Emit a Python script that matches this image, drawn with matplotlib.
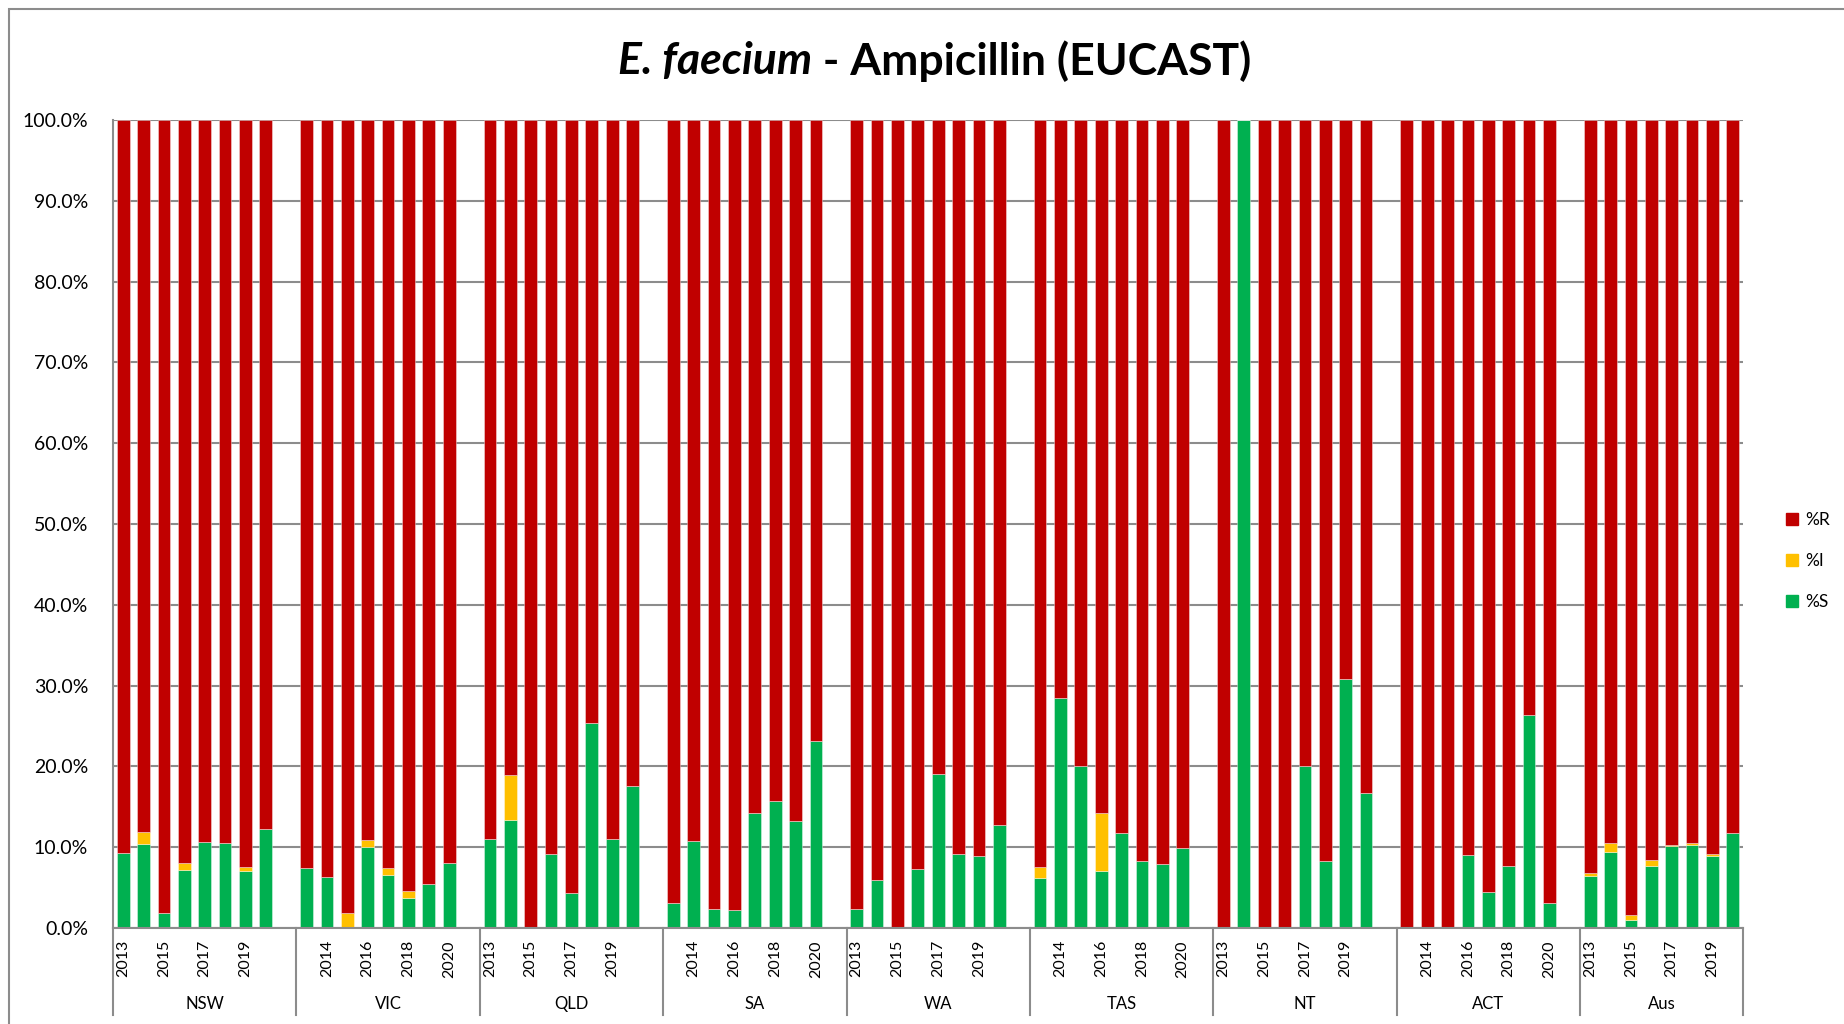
import numpy as np
import matplotlib
matplotlib.use("Agg")
from matplotlib import pyplot as plt
from matplotlib.patches import Patch, Rectangle
from matplotlib.ticker import FuncFormatter

plt.rcParams['font.family'] = ['Lato', 'DejaVu Sans']

# categories
regions = ["NSW", "VIC", "QLD", "SA", "WA", "TAS", "NT", "ACT", "Aus"]
years = [2013, 2014, 2015, 2016, 2017, 2018, 2019, 2020]

# % susceptible, one row per region, 2013..2020
pct_S = [
    [9.3, 10.4, 1.9, 7.2, 10.7, 10.5, 7.1, 12.2],    # NSW
    [7.4, 6.3, 0.0, 10.0, 6.6, 3.7, 5.5, 8.1],       # VIC
    [11.0, 13.4, 0.0, 9.2, 4.3, 25.4, 11.0, 17.6],   # QLD
    [3.1, 10.8, 2.4, 2.2, 14.2, 15.7, 13.2, 23.1],   # SA
    [2.3, 5.9, 0.0, 7.3, 19.0, 9.2, 8.9, 12.7],      # WA
    [6.2, 28.5, 20.0, 7.0, 11.7, 8.3, 7.9, 9.9],     # TAS
    [0.0, 100.0, 0.0, 0.0, 20.0, 8.3, 30.8, 16.7],   # NT
    [0.0, 0.0, 0.0, 9.0, 4.5, 7.7, 26.3, 3.1],       # ACT
    [6.4, 9.4, 1.0, 7.7, 10.1, 10.3, 8.9, 11.8],     # Aus
]
# % intermediate
pct_I = [
    [0.0, 1.5, 0.0, 0.9, 0.0, 0.0, 0.5, 0.0],
    [0.0, 0.0, 1.8, 0.9, 0.8, 0.9, 0.0, 0.0],
    [0.0, 5.5, 0.0, 0.0, 0.0, 0.0, 0.0, 0.0],
    [0.0, 0.0, 0.0, 0.0, 0.0, 0.0, 0.0, 0.0],
    [0.0, 0.0, 0.0, 0.0, 0.0, 0.0, 0.0, 0.0],
    [1.3, 0.0, 0.0, 7.2, 0.0, 0.0, 0.0, 0.0],
    [0.0, 0.0, 0.0, 0.0, 0.0, 0.0, 0.0, 0.0],
    [0.0, 0.0, 0.0, 0.0, 0.0, 0.0, 0.0, 0.0],
    [0.4, 1.1, 0.6, 0.7, 0.2, 0.2, 0.2, 0.0],
]

c_R = "#C00000"
c_I = "#FFC000"
c_S = "#00B050"
grey = "#8c8c8c"

S = np.array(pct_S)
I = np.array(pct_I)
R = 100.0 - S - I

# each region takes 8 year slots plus one empty slot (except the last)
slots_per_group = len(years) + 1
n_slots = slots_per_group * (len(regions) - 1) + len(years)
xpos = np.array([[g * slots_per_group + j for j in range(len(years))]
                 for g in range(len(regions))])

W, H = 1844, 1024
fig = plt.figure(figsize=(W / 100, H / 100), dpi=100)
ax = fig.add_axes([113 / W, 1 - 928 / H, (1743 - 113) / W, (928 - 120) / H])

bw = 0.62
edge = dict(edgecolor=(1, 1, 1, 0.45), linewidth=0.6)
x = xpos.ravel()
ax.bar(x, S.ravel(), bw, color=c_S, **edge)
ax.bar(x, I.ravel(), bw, bottom=S.ravel(), color=c_I, **edge)
ax.bar(x, R.ravel(), bw, bottom=(S + I).ravel(), color=c_R, **edge)

ax.set_xlim(-0.5, n_slots - 0.5)
ax.set_ylim(0, 100)
ax.set_yticks(np.arange(0, 101, 10))
ax.yaxis.set_major_formatter(FuncFormatter(lambda v, p: f"{v:.1f}%"))
ax.tick_params(axis='y', length=0, labelsize=14, pad=18)
ax.set_xticks([])
ax.grid(axis='y', color=grey, linewidth=1.5)
ax.set_axisbelow(True)
for side in ["top", "right"]:
    ax.spines[side].set_visible(False)
ax.spines["left"].set_color(grey)
ax.spines["bottom"].set_color(grey)
ax.spines["left"].set_linewidth(1.5)
ax.spines["bottom"].set_linewidth(1.5)

# year labels on every other slot
xform = ax.get_xaxis_transform()
for g in range(len(regions)):
    for j, yr in enumerate(years):
        s = xpos[g, j]
        if s % 2 == 0:
            ax.annotate(str(yr), xy=(s, 0), xycoords=xform,
                        xytext=(0, -12), textcoords="offset pixels",
                        rotation=90, ha="center", va="top", fontsize=11.5)

# region labels and separators
sep_bottom = (928 - 1015) / (928 - 120)
bounds = [g * slots_per_group - 0.5 for g in range(len(regions))] + [n_slots - 0.5]
for b in bounds:
    ax.plot([b, b], [0, sep_bottom], transform=xform, color=grey,
            linewidth=1.5, clip_on=False)
for g, name in enumerate(regions):
    mid = (bounds[g] + bounds[g + 1]) / 2
    ax.annotate(name, xy=(mid, 0), xycoords=xform, xytext=(0, -76),
                textcoords="offset pixels", ha="center", va="center",
                fontsize=12)

# title: species name in italics
ty = 1 - 61 / H
fig.text(812 / W, ty, "E. faecium", fontsize=32, fontweight="bold",
         fontstyle="italic", ha="right", va="center")
fig.text(812 / W, ty, " - Ampicillin (EUCAST)", fontsize=32,
         fontweight="bold", ha="left", va="center")

handles = [Patch(color=c_R, label="%R"), Patch(color=c_I, label="%I"),
           Patch(color=c_S, label="%S")]
fig.legend(handles=handles, loc="center left", bbox_to_anchor=(1770 / W, 1 - 561 / H),
           frameon=False, fontsize=12.5, handlelength=0.7, handleheight=0.7,
           handletextpad=0.45, labelspacing=1.45)

# chart border
fig.add_artist(Rectangle((9 / W, -0.05), 1.0, 1.05 - 9 / H, transform=fig.transFigure,
                         fill=False, edgecolor=grey, linewidth=1.5))

fig.savefig("out.png", dpi=100)
